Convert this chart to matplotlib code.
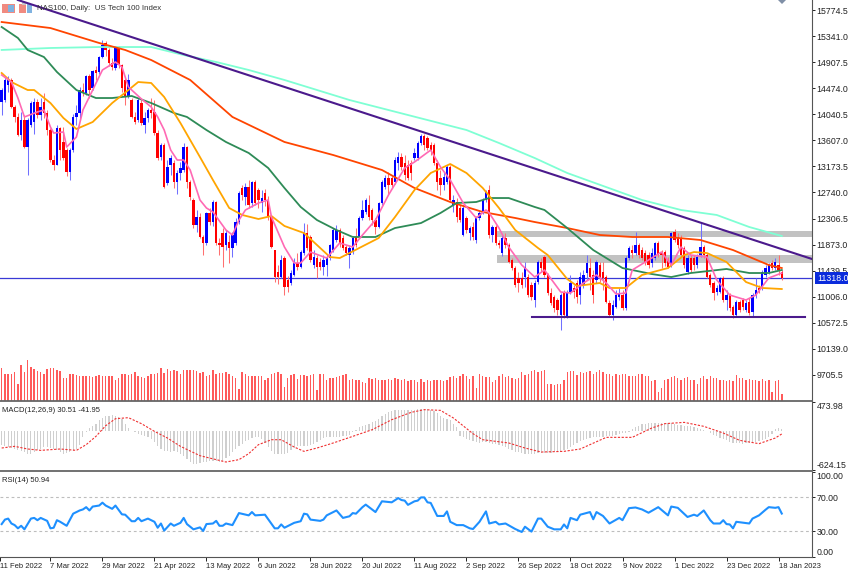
import matplotlib
matplotlib.use("Agg")
import matplotlib.pyplot as plt
from matplotlib.patches import Rectangle, Polygon

plt.rcParams['font.family'] = ['Liberation Sans', 'DejaVu Sans']

W, H = 848, 574

# daily candles
opens = [14245,14278,14528,14611,14162,13996,13696,13945,13496,13862,
         13912,14245,14029,14245,14062,13779,13280,13197,13812,13580,
         13446,13081,13446,13996,14062,14444,14394,14677,14478,14777,
         14744,14993,15226,15110,14893,14810,15143,14860,14611,14328,
         14278,13996,13945,14228,13862,13979,14112,14079,13729,13330,
         13530,12898,13197,13230,12915,13064,13114,13496,12915,12615,
         12199,12332,12000,11900,12399,12249,12582,11900,12066,11867,
         11917,11817,11900,12249,12815,12665,12831,12565,12915,12781,
         12565,12731,12615,12332,11783,11418,11334,11650,11285,11235,
         11368,11567,11501,11733,12066,12000,11534,11650,11584,11501,
         11534,11650,11783,11950,12116,11983,11833,11700,11750,12000,
         12000,12316,12416,12532,12449,12282,12166,12565,12831,12981,
         12981,12915,13230,13330,13230,13197,13230,13313,13313,13563,
         13680,13646,13530,13530,13230,12981,12865,12915,13164,12532,
         12582,12482,12033,12316,12066,12166,11950,12316,12399,12615,
         12781,12033,12166,11900,11733,11983,11867,11617,11484,11318,
         11318,11334,11334,11201,10952,11251,11584,11667,11368,11068,
         11002,10952,10702,11068,10669,11085,11151,11235,11035,11201,
         11401,11484,11368,11285,11534,11418,11334,10902,10702,10836,
         11002,11035,10819,11650,11783,11733,11867,11783,11733,11700,
         11567,11650,11900,11733,11750,11617,11534,12083,12000,11983,
         11817,11418,11650,11650,11534,11700,11833,11700,11368,11235,
         11085,11085,11318,10952,11035,10836,10702,10919,10952,10786,
         10919,10752,11035,11151,11151,11368,11418,11567,11484,11534,
         11418]
closes = [14444,14611,14611,14162,13996,13696,13945,13496,13945,14228,
          14245,14029,14162,14062,13779,13280,13197,13812,13446,13313,
          13081,13446,13996,14062,14444,14394,14677,14444,14760,14727,
          14993,15193,15110,14893,14827,15143,14860,14478,14328,14611,
          13996,13912,14278,13896,13979,14112,14062,13729,13313,13530,
          12831,13164,13313,12915,13064,13147,13496,12915,12665,12199,
          12332,12000,11900,12399,12249,12582,11900,11867,11833,12066,
          11817,12033,12249,12731,12698,12831,12532,12915,12565,12615,
          12648,12615,12332,11833,11334,11334,11617,11168,11168,11401,
          11567,11501,11750,12066,11817,11617,11667,11501,11501,11617,
          11650,11867,12116,12116,11900,11817,11733,11817,11983,11867,
          12316,12449,12615,12332,12282,12166,12565,12915,12981,12865,
          12865,13280,13330,13164,13031,12981,13064,13396,13563,13680,
          13530,13480,13446,13230,12915,12865,12998,13164,12615,12615,
          12332,12282,12482,12116,12149,12000,12316,12399,12615,12748,
          12033,12166,11900,11867,11983,11867,11584,11484,11201,11235,
          11201,11501,11035,11002,11235,11584,11484,11368,11068,10902,
          10819,10786,11035,10702,11085,11235,11085,11002,11334,11368,
          11567,11334,11035,11584,11318,11318,10919,10702,10869,11035,
          11068,10819,11650,11817,11733,11867,11700,11650,11584,11534,
          11733,11900,11700,11700,11567,11501,12066,11950,11867,11700,
          11534,11650,11451,11534,11667,11833,11700,11334,11201,11068,
          11151,11318,10952,11035,10819,10702,10919,10786,10836,10902,
          10736,11035,11118,11118,11418,11484,11534,11484,11584,11451,
          11318]
highs = [14478,14677,14677,14644,14195,14062,14079,14029,13979,14262,
         14311,14295,14311,14395,14112,13812,13363,13862,13829,13829,
         13480,13480,14045,14195,14494,14561,14694,14711,14777,14843,
         15010,15276,15259,15143,14976,15176,15176,14877,14644,14711,
         14311,14079,14311,14278,14079,14145,14311,14278,13779,13563,
         13563,13280,13363,13280,13114,13247,13563,13513,12948,12648,
         12449,12399,12033,12415,12482,12615,12598,11983,12149,12116,
         12033,12083,12316,12765,12865,12898,12948,12931,12948,12815,
         12781,12798,12681,12366,11783,11534,11700,11684,11351,11451,
         11650,11733,11783,12233,12216,12033,11783,11700,11650,11700,
         11717,11883,12149,12199,12149,12033,11867,11867,12016,12149,
         12349,12615,12648,12698,12482,12316,12582,12948,13031,13081,
         13014,13330,13413,13396,13363,13280,13280,13480,13596,13713,
         13713,13680,13580,13563,13280,13114,13081,13197,13197,12698,
         12648,12532,12532,12349,12183,12249,12349,12432,12648,12781,
         12865,12199,12199,11950,12033,12066,11900,11650,11517,11418,
         11418,11584,11384,11251,11285,11617,11650,11700,11401,11151,
         11035,10985,11068,11118,11118,11368,11201,11285,11418,11451,
         11700,11650,11451,11617,11584,11584,11368,10952,10952,11118,
         11151,11118,11684,11850,11867,12083,11900,11833,11783,11750,
         11817,11917,11933,11783,11783,11667,12083,12133,12066,12033,
         11850,11700,11700,11700,11717,12233,11867,11733,11401,11268,
         11201,11334,11351,11118,11068,10869,10952,10952,10985,10952,
         10985,11068,11318,11201,11451,11534,11567,11617,11650,11700,
         11451]
lows = [14029,14245,14411,14145,13912,13680,13613,13480,13031,13829,
        13713,13979,13945,13979,13696,13247,13114,13197,13280,13280,
        13014,12948,13413,13862,13945,14344,14361,14311,14444,14611,
        14711,14976,15010,14843,14777,14777,14810,14411,14195,14311,
        13979,13879,13912,13862,13729,13912,13979,13696,13280,13280,
        12815,12865,13031,12815,12715,12948,13081,12815,12615,12149,
        12083,11983,11700,11867,12199,12183,11867,11700,11501,11783,
        11567,11667,11867,12216,12615,12532,12482,12498,12532,12482,
        12416,12515,12282,11817,11251,11218,11318,11035,11085,11201,
        11351,11451,11484,11700,11783,11584,11484,11318,11451,11368,
        11351,11617,11750,11917,11833,11783,11700,11484,11717,11833,
        11983,12282,12382,12282,12199,12050,12149,12532,12798,12698,
        12815,12881,13114,13114,12948,12948,12948,13280,13280,13530,
        13446,13446,13363,13197,12781,12698,12781,12881,12598,12416,
        12249,12249,12016,12066,11950,11950,11900,12282,12382,12582,
        11983,11917,11867,11817,11684,11817,11567,11451,11168,11085,
        11151,11168,11002,10952,10836,11218,11418,11334,11035,10869,
        10752,10702,10453,10652,10652,11052,10985,10902,10885,11151,
        11285,11118,10902,11235,11251,11118,10902,10686,10619,10819,
        10952,10786,10786,11617,11650,11700,11650,11617,11534,11484,
        11501,11617,11667,11484,11517,11484,11501,11917,11817,11667,
        11484,11384,11418,11451,11484,11667,11650,11318,11168,10952,
        11035,11068,10919,10786,10769,10652,10669,10752,10786,10752,
        10702,10669,10985,11068,11118,11334,11384,11451,11451,11368,
        11285]

# tick volume per bar
volumes = [98,78,78,80,84,50,105,85,120,100,95,88,85,78,93,98,98,92,88,68,
           68,78,80,76,74,72,72,72,70,72,75,74,72,72,72,62,66,78,78,76,
           80,85,72,70,66,74,80,78,82,98,82,95,88,90,88,78,92,90,90,90,
           88,82,86,72,75,92,80,82,82,84,80,72,68,34,85,78,74,74,74,74,
           74,62,68,80,82,84,80,40,68,76,80,64,76,76,74,76,78,30,78,78,
           62,68,66,70,74,76,80,62,64,62,60,56,52,66,64,68,62,60,60,65,
           62,66,64,60,63,58,60,62,54,64,55,62,58,60,60,62,58,60,70,72,
           68,72,78,74,64,72,38,78,72,70,70,55,60,72,78,70,72,66,64,66,
           85,75,78,88,90,86,88,92,50,48,46,48,50,62,85,88,88,76,84,82,
           84,88,80,86,92,84,78,80,72,78,76,80,78,72,74,72,78,78,72,74,
           58,60,24,38,62,64,70,72,68,62,68,70,62,60,50,68,72,64,72,66,
           68,62,60,58,60,58,76,68,66,62,64,60,62,58,64,58,60,24,58,60,
           20]

# moving averages, read at (bar, price)
ma_red_x = [0,15,23,30,38,46,58,71,87,102,117,127,138,148,158,164,174,184,194,205,215,225,236,240]
ma_red_y = [15575,15475,15342,15226,15110,14943,14611,13996,13580,13363,13114,12815,12582,12416,
            12316,12249,12149,12033,12000,12000,11950,11783,11534,11484]
ma_teal_x = [0,15,30,46,56,66,76,87,107,131,143,153,164,174,197,209,220,230,240]
ma_teal_y = [15110,15143,15159,15159,15026,14910,14777,14611,14278,13945,13779,13563,13313,13064,
             12615,12449,12366,12166,12016]
ma_green_x = [0,5,8,13,17,23,29,34,40,46,53,57,63,69,76,82,87,92,97,103,108,115,121,129,135,140,
              146,150,156,164,167,174,182,191,200,206,212,223,230,236,240]
ma_green_y = [15492,15309,15110,14993,14744,14444,14311,14311,14345,14228,14062,13996,13779,13580,
              13397,13147,12815,12499,12282,12116,12000,12000,12149,12232,12399,12565,12582,12648,
              12648,12499,12449,12149,11783,11484,11384,11334,11401,11468,11401,11401,11451]
ma_orange_x = [0,3,8,10,15,19,23,28,34,39,42,46,50,55,61,65,70,74,79,83,87,93,97,101,104,110,116,
               121,127,132,138,143,148,153,158,165,168,174,177,184,187,192,197,205,210,213,217,223,
               229,234,240]
ma_orange_y = [14727,14577,14444,14444,14228,13979,13796,13912,14228,14444,14577,14561,14328,13895,
               13330,12948,12482,12366,12299,12349,12183,12066,11867,11667,11650,11817,11983,12332,
               12781,13064,13214,13064,12815,12482,12116,11817,11700,11301,11185,11235,11152,11152,
               11368,11484,11700,11750,11733,11584,11251,11152,11135]
ma_pink_x = [0,3,5,7,11,13,15,16,19,20,23,25,28,31,35,37,39,43,46,48,50,52,54,56,58,61,63,65,69,71,
             73,75,79,82,83,87,90,92,95,100,104,108,111,115,119,124,127,132,135,138,142,146,149,150,
             153,156,160,164,167,172,175,179,183,186,189,192,194,199,203,206,209,212,217,220,224,
             229,232,236,240]
ma_pink_y = [14694,14577,14311,13996,14079,14112,13829,13729,13746,13496,13663,14112,14444,14777,
             14910,14827,14494,14295,14162,13996,13779,13446,13280,13280,13114,12615,12482,12416,
             12116,12033,12282,12449,12565,12615,12332,11833,11567,11567,11750,11650,11900,11833,
             12033,12282,12698,13147,13247,13446,13164,12948,12565,12316,12449,12399,12149,11833,
             11534,11334,11451,11085,11068,11235,11368,11235,11052,11068,11451,11617,11750,11534,
             11833,11700,11667,11285,11035,10952,11035,11318,11401]

# drawn objects on the chart
trend_x = [5, 249.3]
trend_y = [15941, 11634]
support_x = [163.2, 247.2]
support_y = [10669, 10669]
zone_upper = [12000, 12099]
zone_lower = [11567, 11700]
zone_x = [152.5, 249.3]
last_price = 11318

price_ticks = [15774.5,15341.0,14907.5,14474.0,14040.5,13607.0,13173.5,12740.0,12306.5,11873.0,
               11439.5,11006.0,10572.5,10139.0,9705.5]

# MACD
macd_hist = [-215,-231,-253,-264,-280,-296,-312,-328,-371,-366,-334,-307,-285,-253,-247,-269,-280,
             -307,-334,-360,-350,-328,-323,-285,-215,-91,-16,59,91,124,178,215,242,253,258,253,237,
             199,124,54,11,-16,-38,-59,-70,-91,-124,-178,-231,-285,-312,-323,-328,-323,-334,-360,
             -404,-447,-490,-533,-522,-511,-500,-490,-484,-484,-484,-490,-484,-430,-393,-339,-285,
             -231,-199,-161,-135,-108,-91,-91,-124,-188,-253,-323,-360,-366,-366,-360,-350,-307,
             -274,-242,-242,-242,-231,-215,-199,-178,-135,-108,-91,-91,-91,-91,-86,-81,-70,-54,-16,
             27,70,91,108,124,145,161,204,242,285,317,334,339,339,339,350,339,339,350,360,366,360,
             360,350,323,296,253,215,204,178,124,70,-70,-91,-124,-145,-161,-178,-188,-178,-178,-188,
             -199,-210,-221,-242,-258,-285,-307,-328,-339,-350,-360,-371,-360,-360,-350,-350,-350,
             -350,-350,-339,-328,-317,-307,-285,-253,-221,-188,-161,-145,-124,-113,-91,-91,-91,-91,
             -81,-70,-70,-54,-38,-27,-27,-11,38,70,91,113,118,129,135,135,135,135,135,135,135,124,
             108,102,91,91,81,70,59,38,27,5,-27,-54,-81,-102,-124,-145,-167,-188,-194,-194,-199,-194,
             -188,-188,-178,-161,-145,-124,-91,-38,38,48,31]
macd_signal_x = [0,4,8,12,18,23,26,29,32,35,39,43,47,51,55,61,66,69,73,76,79,83,86,90,93,97,102,108,
                 114,120,126,130,135,139,145,148,156,161,166,173,178,186,194,200,204,210,216,222,
                 227,233,238,240]
macd_signal_y = [-269,-242,-285,-307,-285,-307,-215,-81,91,204,221,124,0,-108,-242,-393,-457,-495,
                 -457,-360,-215,-135,-135,-253,-323,-269,-188,-81,27,188,307,350,339,215,-38,-135,
                 -188,-269,-334,-323,-285,-97,-97,54,124,145,81,-27,-145,-199,-108,-42]

# RSI
rsi_x = [0,1,2,3,4,5,6,7,9,10,11,12,14,15,16,17,18,20,22,24,25,26,27,28,30,31,32,34,35,37,38,40,41,
         42,43,45,47,48,49,50,52,53,55,56,57,59,61,62,63,65,66,67,68,69,71,73,76,77,78,81,84,85,86,
         87,90,92,93,94,95,98,99,100,103,105,107,108,109,111,112,115,117,120,122,123,124,125,127,128,
         129,130,131,132,134,136,137,138,140,142,144,145,147,149,150,152,153,155,158,160,161,163,165,
         166,168,170,172,173,174,175,177,178,181,182,183,185,187,190,191,193,195,197,199,202,205,206,
         208,211,213,214,216,218,219,221,222,223,224,225,226,230,231,233,235,236,238,239,240]
rsi_y = [38.5,43.8,45,39.2,37.3,33.5,36.5,32.3,45,45.8,43.1,45.8,42.3,33.5,34.2,43.1,41.2,36.5,50.8,
         54.6,55.8,58.5,54.6,59.2,60.4,63.8,60.4,56.5,60.4,50,49.6,41.9,41.9,45.8,41.9,45,41.2,34.2,
         39.2,30.8,39.2,36.5,40,45.8,38.5,32.3,34.6,30.4,38.5,39.2,42.3,36.5,36.5,39.2,37.3,51.5,48.8,
         52.7,48.8,49.6,33.5,33.5,38.1,34.2,40,41.9,50.8,50,43.8,42.3,43.8,48.8,54.6,45.8,47.7,51.5,
         50.8,58.5,61.5,52.7,65.4,64.2,69.2,66.9,66.2,61.2,65.4,66.2,70,70,64.2,63.5,48.1,48.1,53.5,
         41.2,37.3,37.3,33.5,32.7,41.2,53.5,39.2,41.2,38.1,39.2,32.7,29.2,35.4,29.6,45,45,35.4,32.3,
         32.3,38.1,33.5,45.8,43.1,49.6,52.7,44.2,52.7,48.1,39.2,45.8,43.1,57.3,58.1,55.8,51.9,58.5,
         48.8,59.2,57.7,46.9,49.6,48.1,54.6,43.1,39.2,39.2,43.1,38.5,38.1,33.5,41.2,39.2,45,48.8,55.4,
         58.5,57.7,58.5,50.94]

date_ticks = [-0.5,15,31,47,63,79,95,111,127,143,159,175,191,207,223,239]
date_labels = ['11 Feb 2022','7 Mar 2022','29 Mar 2022','21 Apr 2022','13 May 2022','6 Jun 2022',
               '28 Jun 2022','20 Jul 2022','11 Aug 2022','2 Sep 2022','26 Sep 2022','18 Oct 2022',
               '9 Nov 2022','1 Dec 2022','23 Dec 2022','18 Jan 2023']

TEXT = '#222222'
AXIS = '#555555'
FS = 6.3
FS_SMALL = 5.5


def panel(fig, top, bottom, right=812):
    return fig.add_axes([0, 1 - bottom / H, right / W, (bottom - top) / H])


fig = plt.figure(figsize=(W / 100, H / 100), dpi=100)
ax = panel(fig, 0, 400.5)
ax_macd = panel(fig, 402, 470)
ax_rsi = panel(fig, 472, 556.7)
xlim = (-0.514, 249.3)

# volumes sit behind the candles on their own scale
ax_vol = ax.twinx()
ax_vol.set_ylim(0, 1201)
ax_vol.bar(range(len(volumes)), volumes, width=0.45, color='#ff5a5a', linewidth=0)
ax_vol.axis('off')
ax.set_zorder(ax_vol.get_zorder() + 1)
ax.patch.set_visible(False)

# zones and price line
for zone in (zone_upper, zone_lower):
    ax.fill_between(zone_x, zone[0], zone[1], color='#c2c2c2', linewidth=0, zorder=1)
ax.axhline(last_price, color='#3a3ad6', lw=0.9, zorder=2)

# candles
bar_idx = range(len(closes))
up = [c >= o for o, c in zip(opens, closes)]
colors = ['#0000ff' if u else '#ff0000' for u in up]
wick_colors = ['#7070ff' if u else '#ff7070' for u in up]
ax.vlines(bar_idx, lows, highs, colors=wick_colors, lw=0.75, zorder=3)
ax.bar(bar_idx, [abs(c - o) for o, c in zip(opens, closes)], bottom=[min(o, c) for o, c in zip(opens, closes)],
       width=0.74, color=colors, linewidth=0, zorder=4)

# moving averages
ax.plot(ma_teal_x, ma_teal_y, color='#7fffd4', lw=1.3, zorder=5)
ax.plot(ma_red_x, ma_red_y, color='#ff4500', lw=1.3, zorder=5)
ax.plot(ma_green_x, ma_green_y, color='#2e8b57', lw=1.3, zorder=5)
ax.plot(ma_orange_x, ma_orange_y, color='#ffa500', lw=1.3, zorder=5)
ax.plot(ma_pink_x, ma_pink_y, color='#ff69b4', lw=1.2, zorder=6)

# trend lines
ax.plot(trend_x, trend_y, color='#4b1a8c', lw=1.5, zorder=7)
ax.plot(support_x, support_y, color='#4b1a8c', lw=1.5, zorder=7)

ax.set_xlim(xlim)
ax.set_ylim(9281, 15941)
ax.set_xticks([])
ax.yaxis.tick_right()
ax.set_yticks(price_ticks)
ax.set_yticklabels(['%.1f' % p for p in price_ticks])

ax.annotate('%.1f' % last_price, xy=(1, last_price), xycoords=ax.get_yaxis_transform(), xytext=(3.6, 0),
            textcoords='offset points', va='center', ha='left', color='white', fontsize=FS, zorder=20,
            annotation_clip=False, bbox=dict(boxstyle='square,pad=0.2', fc='#0a2bdc', ec='none'))

# MACD panel
ax_macd.bar(range(len(macd_hist)), macd_hist, width=0.35, color='#cfcfcf', linewidth=0)
ax_macd.plot(macd_signal_x, macd_signal_y, color='#f03030', lw=0.8, ls=(0, (2, 1.4)))
ax_macd.set_xlim(xlim)
ax_macd.set_ylim(-624.15, 473.98)
ax_macd.set_xticks([])
ax_macd.yaxis.tick_right()
ax_macd.set_yticks([473.98, -624.15])
ax_macd.set_yticklabels(['473.98', '-624.15'])
ax_macd.get_yticklabels()[0].set_va('top')
ax_macd.get_yticklabels()[1].set_va('bottom')
ax_macd.text(0.003, 0.87, 'MACD(12,26,9) 30.51 -41.95', transform=ax_macd.transAxes, fontsize=FS_SMALL, color=TEXT, va='center')

# RSI panel
for level in (70, 30):
    ax_rsi.axhline(level, color='#bdbdbd', lw=0.8, ls=(0, (2.5, 2.5)))
ax_rsi.plot(rsi_x, rsi_y, color='#1e90ff', lw=1.5)
ax_rsi.set_xlim(xlim)
ax_rsi.set_ylim(0, 100)
ax_rsi.yaxis.tick_right()
ax_rsi.set_yticks([100, 70, 30, 0])
ax_rsi.set_yticklabels(['100.00', '70.00', '30.00', '0.00'])
ax_rsi.get_yticklabels()[0].set_va('top')
ax_rsi.get_yticklabels()[3].set_va('bottom')
ax_rsi.text(0.003, 0.9, 'RSI(14) 50.94', transform=ax_rsi.transAxes, fontsize=FS_SMALL, color=TEXT, va='center')
ax_rsi.set_xticks(date_ticks)
ax_rsi.set_xticklabels(date_labels, ha='left')

for a in (ax, ax_macd, ax_rsi):
    for s in ('top', 'left'):
        a.spines[s].set_visible(False)
    a.spines['bottom'].set_visible(a is ax_rsi)
    a.spines['right'].set_color(AXIS)
    a.spines['bottom'].set_color(AXIS)
    a.tick_params(axis='y', length=2.2, width=0.7, pad=1.2, labelsize=FS, colors=TEXT)
    a.tick_params(axis='x', length=3, width=0.7, pad=1.5, labelsize=FS_SMALL, colors=TEXT)

# panel separators
for y in (401.2, 471):
    fig.add_artist(plt.Line2D([0, 812 / W], [1 - y / H, 1 - y / H], color='#666666', lw=1.3))

# title and toolbar icons
fig.text(37 / W, 1 - 8.5 / H, 'NAS100, Daily:  US Tech 100 Index', fontsize=5.7, color='#333333', va='center', zorder=1)


def icon(x, y, w, h, color):
    fig.add_artist(Rectangle((x / W, 1 - (y + h) / H), w / W, h / H, transform=fig.transFigure,
                             facecolor=color, edgecolor='none'))


icon(2, 4, 13, 9, '#f08a80')
icon(8, 5, 6, 7, '#7fb2e0')
for y in (6.5, 8.5, 10.5):
    icon(3, y, 11, 0.6, '#ffffff')
icon(19, 4, 7, 9, '#f08a80')
icon(27, 4, 5, 9, '#7fb2e0')
icon(22, 2, 4, 3, '#c8c8c8')

# small chart-shift marker at the top edge
fig.add_artist(Polygon([(778 / W, 1), (786 / W, 1), (782 / W, 1 - 4 / H)], transform=fig.transFigure,
                       facecolor='#7f8fa6', edgecolor='none'))

fig.savefig('out.png', dpi=100)
